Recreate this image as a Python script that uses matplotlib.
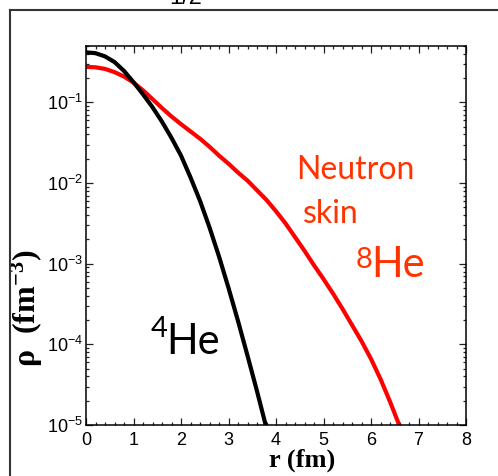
import numpy as np
import matplotlib
matplotlib.use("Agg")
from matplotlib import pyplot as plt
from matplotlib.lines import Line2D

# densites, en log10(rho / fm^-3)
r_he4 = [0.0, 0.2, 0.4, 0.6, 0.8, 1.0, 1.2, 1.4, 1.6, 1.8, 2.0, 2.2, 2.4,
         2.6, 2.8, 3.0, 3.2, 3.4, 3.6, 3.8, 4.0]
log_he4 = [-0.38, -0.39, -0.43, -0.50, -0.61, -0.75, -0.90, -1.06, -1.24,
           -1.44, -1.66, -1.93, -2.22, -2.55, -2.91, -3.30, -3.71, -4.14,
           -4.58, -5.04, -5.50]

r_he8 = [0.0, 0.2, 0.4, 0.6, 0.8, 1.0, 1.2, 1.4, 1.6, 1.8, 2.0, 2.2, 2.4,
         2.6, 2.8, 3.0, 3.2, 3.4, 3.6, 3.8, 4.0, 4.2, 4.4, 4.6, 4.8, 5.0,
         5.2, 5.4, 5.6, 5.8, 6.0, 6.2, 6.4, 6.6, 6.8]
log_he8 = [-0.56, -0.565, -0.585, -0.625, -0.68, -0.755, -0.85, -0.96,
           -1.07, -1.175, -1.27, -1.36, -1.45, -1.55, -1.66, -1.76, -1.87,
           -1.97, -2.09, -2.21, -2.35, -2.50, -2.67, -2.84, -3.02, -3.19,
           -3.37, -3.56, -3.76, -3.96, -4.18, -4.43, -4.71, -5.01, -5.30]

x_ticks = [0, 1, 2, 3, 4, 5, 6, 7, 8]

plt.rcParams['font.family'] = ['Liberation Sans', 'DejaVu Sans']

W, H = 498, 476
fig = plt.figure(figsize=(W / 100, H / 100), dpi=100)
ax = fig.add_axes([86 / W, 1 - 425 / H, 380 / W, 379 / H])

ax.semilogy(r_he8, 10 ** np.array(log_he8), color='#ff0000', lw=3.0,
            solid_capstyle='butt')
ax.semilogy(r_he4, 10 ** np.array(log_he4), color='black', lw=3.0,
            solid_capstyle='butt')

ax.set_xlim(0, 8)
ax.set_ylim(1e-5, 0.5)
ax.set_xticks(x_ticks)
ax.set_xticks(np.arange(0, 8.01, 0.2), minor=True)
ax.set_yticks([1e-5, 1e-4, 1e-3, 1e-2, 1e-1])

for s in ax.spines.values():
    s.set_linewidth(1.1)
ax.tick_params(which='both', direction='in', top=True, right=True,
               width=0.9, color='#222222')
ax.tick_params(which='major', length=5, labelsize=13)
ax.tick_params(which='minor', length=2.5)
ax.tick_params(axis='x', pad=5)
ax.tick_params(axis='y', pad=2)

ax.set_xlabel('r (fm)', family='Liberation Serif', weight='bold', fontsize=19)
ax.xaxis.set_label_coords((302 - 86) / 380, (425 - 449) / 379)
ax.set_ylabel(r'ρ  (fm$\mathdefault{^{-3}}$)', family='Liberation Serif',
              weight='bold', fontsize=23)
ax.yaxis.set_label_coords((45 - 86) / 380, (425 - 308) / 379)

# annotations
red_txt = '#ff3300'
ax.text(4.42, 10 ** -1.95, 'Neutron', color=red_txt, family='Lato',
        fontsize=23, ha='left', va='baseline')
ax.text(4.57, 10 ** -2.50, 'skin', color=red_txt, family='Lato',
        fontsize=23, ha='left', va='baseline')
ax.text(5.67, 10 ** -3.05, '8', color=red_txt, family='Lato',
        fontsize=21, ha='left', va='baseline')
ax.text(6.0, 10 ** -3.17, 'He', color=red_txt, family='Lato',
        fontsize=30, ha='left', va='baseline')
ax.text(1.36, 10 ** -3.91, '4', color='black', family='Lato',
        fontsize=21, ha='left', va='baseline')
ax.text(1.68, 10 ** -4.12, 'He', color='black', family='Lato',
        fontsize=30, ha='left', va='baseline')

# cadre de la diapo et numero de page coupe
fig.add_artist(Line2D([10 / W, 10 / W], [0, 1 - 10 / H],
                      transform=fig.transFigure, color='#333333', lw=1.5))
fig.add_artist(Line2D([10 / W, 1], [1 - 10 / H, 1 - 10 / H],
                      transform=fig.transFigure, color='#333333', lw=1.5))
fig.text(186 / W, 1 - 4 / H, '1/2', fontsize=17, ha='center', va='baseline')

fig.savefig('out.png', dpi=100)
